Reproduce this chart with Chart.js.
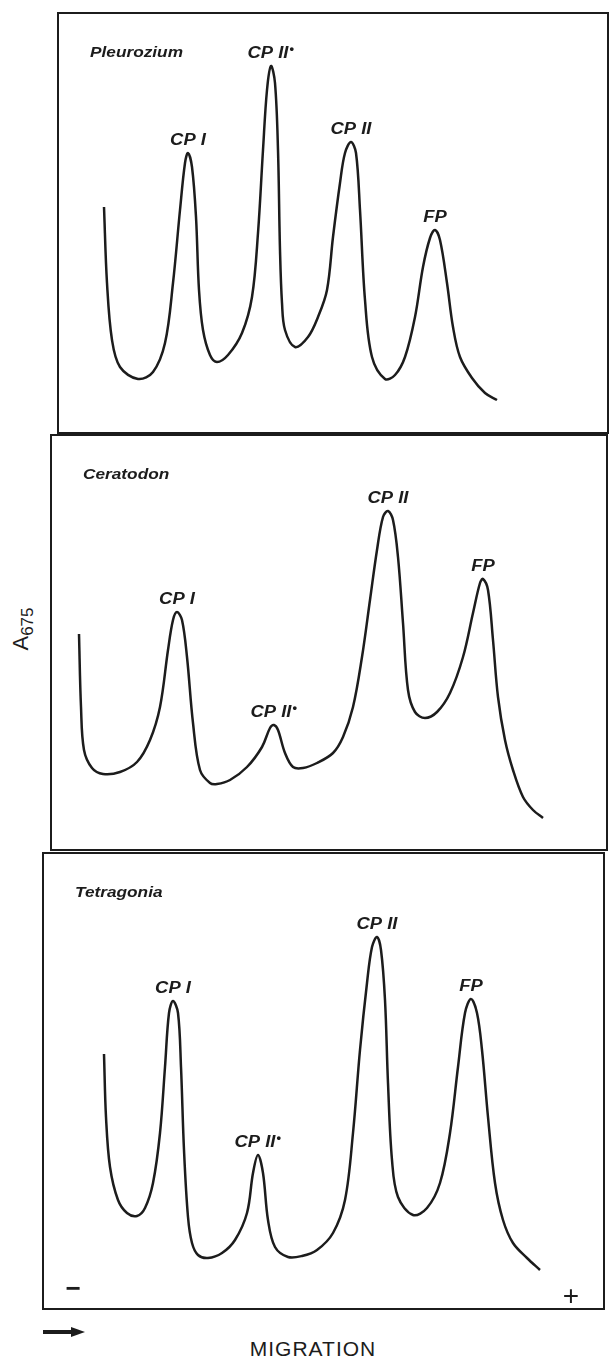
<!DOCTYPE html>
<html>
<head>
<meta charset="utf-8">
<script src="https://cdn.jsdelivr.net/npm/chart.js"></script>
<style>
  body { margin: 0; background: #fff; width: 610px; height: 1359px; position: relative; overflow: hidden;
         font-family: "Liberation Sans", Arial, sans-serif; color: #1c1c1c; }
  .panel { position: absolute; }
  #yTitle { position: absolute; left: 23px; top: 629px; transform: translate(-50%, -50%) rotate(-90deg);
            font-size: 22px; white-space: nowrap; }
  #yTitle sub { font-size: 17px; }
  #xTitle { position: absolute; left: 313px; top: 1337px; transform: translateX(-50%);
            font-size: 21px; letter-spacing: 1px; white-space: nowrap; }
  #arrowShaft { position: absolute; left: 43px; top: 1330px; width: 30px; height: 4px; background: #1c1c1c; }
  #arrowHead { position: absolute; left: 71px; top: 1327px; width: 0; height: 0;
               border-top: 5px solid transparent; border-bottom: 5px solid transparent; border-left: 14px solid #1c1c1c; }
</style>
</head>
<body>

<div class="panel" style="left:57px;top:12px;width:552px;height:422px"><canvas id="pleurozium"></canvas></div>
<div class="panel" style="left:50px;top:434px;width:558px;height:417px"><canvas id="ceratodon"></canvas></div>
<div class="panel" style="left:42px;top:852px;width:563px;height:458px"><canvas id="tetragonia"></canvas></div>

<div id="yTitle">A<sub>675</sub></div>
<div id="arrowShaft"></div><div id="arrowHead"></div>
<div id="xTitle">MIGRATION</div>

<script>
// migration distance (arb. units) and absorbance at 675 nm (arb. units)
const pleuroX = [34,37,42,50,68,83,95,103,110,115,118,122,126,129,133,140,147,158,172,182,188,193,197,201,205,208,210,212,215,225,238,248,257,263,270,275,281,286,290,295,302,315,325,335,345,353,360,365,370,377,383,390,402,415,427];
const pleuroY = [227,151,94,67,55,62,91,151,224,271,281,267,217,144,104,79,72,79,101,137,201,284,344,368,351,284,184,131,104,87,97,117,144,197,251,281,292,281,224,134,77,55,59,77,117,167,196,204,194,151,107,77,56,41,34];

const ceraX = [9,11,14,22,33,50,67,80,90,98,103,107,112,117,123,130,140,147,160,177,192,200,204,208,215,223,233,247,263,273,283,292,300,307,313,318,323,328,333,338,345,355,367,380,393,403,410,413,418,423,428,435,443,453,463,473];
const ceraY = [217,144,101,83,77,79,89,111,144,201,231,239,231,194,128,81,68,67,71,84,104,123,126,121,98,84,83,88,98,114,144,194,251,301,334,340,331,294,228,161,139,133,139,158,194,238,268,272,261,211,154,111,81,54,41,33];

const tetraX = [34,36,40,48,57,67,75,83,90,95,99,103,108,111,114,118,122,128,138,152,165,177,183,188,193,198,205,218,232,247,263,275,283,290,297,302,307,311,315,318,322,328,343,357,370,380,388,395,401,407,412,418,425,433,443,457,470];
const tetraY = [256,193,143,110,97,94,102,127,177,243,297,309,297,243,160,93,67,55,52,57,70,97,137,155,137,90,63,53,54,60,77,110,177,260,327,363,373,360,310,227,150,113,95,102,127,177,243,297,311,297,260,193,127,90,67,52,40];

const peakNames = ['CP I', 'CP II*', 'CP II', 'FP'];
const pleuroPeaks = [118, 201, 281, 365];
const ceraPeaks = [107, 204, 318, 413];
const tetraPeaks = [103, 188, 307, 401];

const ink = '#1c1c1c';

function wideText(ctx, txt, x, y, align) {
    ctx.save();
    ctx.translate(x, y);
    ctx.scale(1.15, 1);
    ctx.textAlign = align;
    ctx.fillText(txt, 0, 0);
    ctx.restore();
}

const gelLabels = {
    id: 'gelLabels',
    afterDatasetsDraw(chart, args, opts) {
        const ctx = chart.ctx;
        const area = chart.chartArea;
        const ds = chart.data.datasets[0].data;
        const pts = chart.getDatasetMeta(0).data;
        ctx.save();
        // frame
        ctx.strokeStyle = ink;
        ctx.lineWidth = 2;
        ctx.strokeRect(area.left + 1, area.top + 1, area.right - area.left - 2, area.bottom - area.top - 2);
        ctx.fillStyle = ink;
        ctx.textBaseline = 'middle';
        // species name
        ctx.font = 'italic bold 15px "Liberation Sans", Arial, sans-serif';
        wideText(ctx, opts.species, area.left + 33, area.top + 41, 'left');
        // peak names
        ctx.textBaseline = 'alphabetic';
        opts.at.forEach((px, i) => {
            const idx = ds.findIndex(p => p.x === px);
            const el = pts[idx];
            let name = opts.names[i];
            const star = name.endsWith('*');
            if (star) name = name.slice(0, -1);
            ctx.font = 'italic bold 16px "Liberation Sans", Arial, sans-serif';
            const w = ctx.measureText(name).width * 1.15;
            const y = el.y - 8;
            const x0 = el.x - w / 2 - (star ? 3 : 0);
            wideText(ctx, name, x0, y, 'left');
            if (star) {
                ctx.font = 'bold 13px "Liberation Sans", Arial, sans-serif';
                ctx.fillText('•', x0 + w + 1, y - 5);
            }
        });
        if (opts.signs) {
            ctx.textAlign = 'center';
            ctx.textBaseline = 'middle';
            ctx.font = 'bold 26px "Liberation Sans", Arial, sans-serif';
            ctx.fillText('\u2212', area.left + 31, area.bottom - 20);
            ctx.font = '28px "Liberation Sans", Arial, sans-serif';
            ctx.fillText('+', area.right - 34, area.bottom - 13);
        }
        ctx.restore();
    }
};

function makeChart(id, xs, ys, species, peaks, xMin, xMax, yMax, signs) {
    new Chart(document.getElementById(id), {
        type: 'line',
        data: {
            datasets: [{
                data: xs.map((x, i) => ({ x: x, y: ys[i] })),
                borderColor: ink,
                borderWidth: 2.5,
                pointRadius: 0,
                tension: 0.35,
                fill: false
            }]
        },
        options: {
            responsive: true,
            maintainAspectRatio: false,
            animation: false,
            events: [],
            layout: { padding: 0 },
            plugins: {
                legend: { display: false },
                tooltip: { enabled: false },
                gelLabels: { species: species, names: peakNames, at: peaks, signs: signs }
            },
            scales: {
                x: { type: 'linear', display: false, min: xMin, max: xMax },
                y: { display: false, min: 0, max: yMax }
            }
        },
        plugins: [gelLabels]
    });
}

makeChart('pleurozium', pleuroX, pleuroY, 'Pleurozium', pleuroPeaks, -13, 539, 422, false);
makeChart('ceratodon', ceraX, ceraY, 'Ceratodon', ceraPeaks, -20, 538, 417, false);
makeChart('tetragonia', tetraX, tetraY, 'Tetragonia', tetraPeaks, -28, 535, 458, true);
</script>
</body>
</html>
